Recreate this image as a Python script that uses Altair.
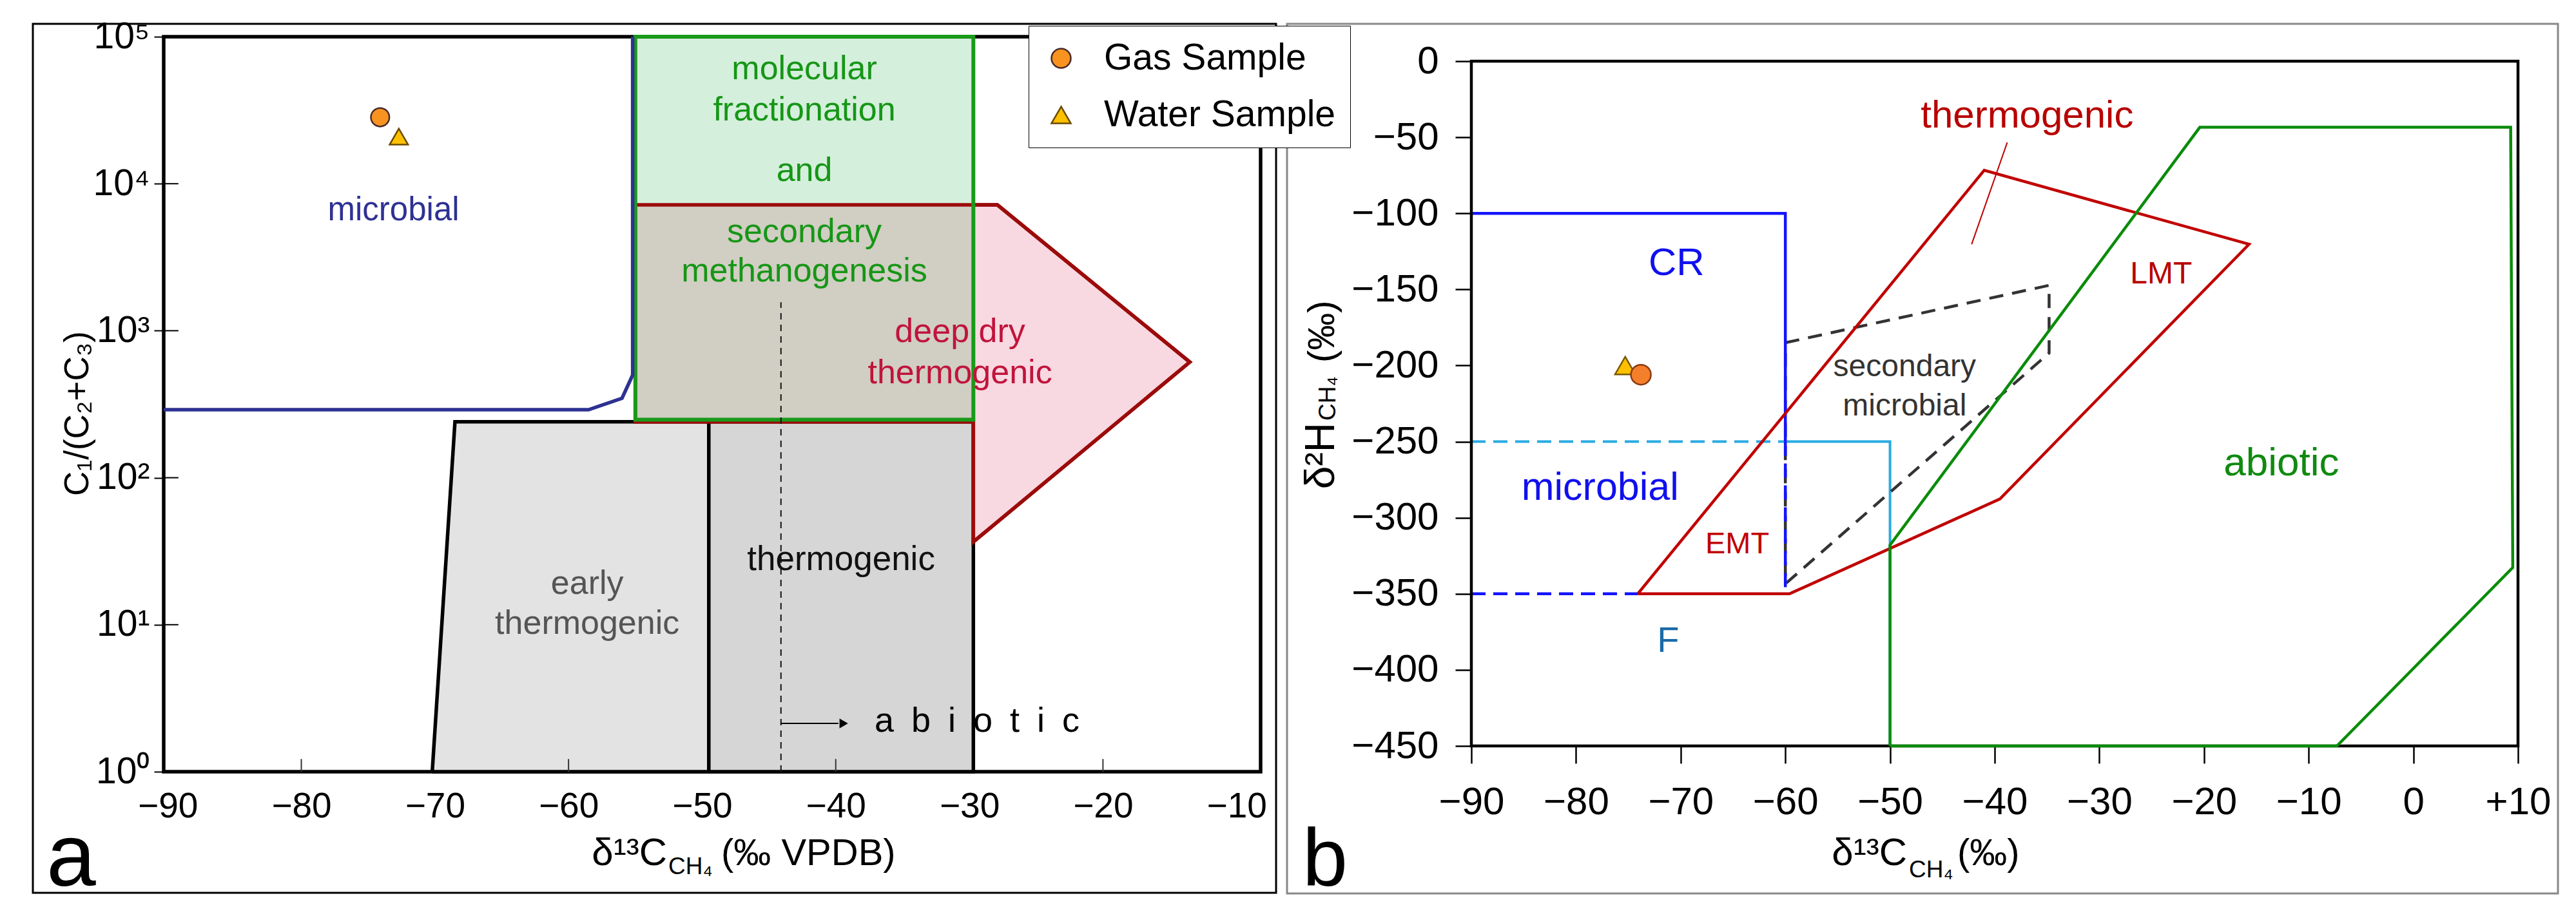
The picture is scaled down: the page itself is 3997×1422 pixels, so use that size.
import altair as alt
import pandas as pd

FONT = "Liberation Sans, Arial, Helvetica, sans-serif"

# ---------------- panel a : C1/(C2+C3) vs d13C ----------------
A_XDOM = [-90.3, -8.2]
A_YDOM = [1, 100000]
A_X_TICKS = [-90, -80, -70, -60, -50, -40, -30, -20, -10]
A_X_INNER_TICKS = [-80, -60, -40, -20]
A_Y_TICKS = [1, 10, 100, 1000, 10000, 100000]
A_Y_INNER_TICKS = [10, 100, 1000, 10000]

A_MICRO_X = [-90.3, -58.5, -56.0, -55.2, -55.2]
A_MICRO_Y = [290, 290, 347, 500, 100000]
A_EARLY_X = [-70.2, -68.5, -49.5, -49.5, -70.2]
A_EARLY_Y = [1, 240, 240, 1, 1]
A_THERMO_X = [-49.5, -49.5, -29.7, -29.7, -49.5]
A_THERMO_Y = [1, 240, 240, 1, 1]
A_DEEP_X = [-55.0, -27.9, -13.5, -29.7, -29.7, -55.0, -55.0]
A_DEEP_Y = [7180, 7180, 612, 36.6, 240, 240, 7180]
A_BOX_X = [-55.0, -29.7]
A_BOX_Y = [248, 7180, 100000]
A_DASH_X = [-44.1, -44.1]
A_DASH_Y = [1, 1563]
A_ARROW_X = [-44.1, -39.8]
A_ARROW_Y = [2.13, 2.13]
A_ARROW_HEAD_X = [-39.4]
A_SAMPLES = ["Gas Sample", "Water Sample"]
A_SAMPLE_X = [-74.1, -72.7]
A_SAMPLE_Y = [28300, 20900]

A_LABELS = [
    ("microbial", -73.1, 5640, "#2e3192", 51),
    ("molecular", -42.35, 51400, "#169616", 52),
    ("fractionation", -42.35, 26900, "#169616", 52),
    ("and", -42.35, 10420, "#169616", 52),
    ("secondary", -42.35, 4000, "#169616", 52),
    ("methanogenesis", -42.35, 2160, "#169616", 52),
    ("deep dry", -30.7, 837, "#c0143c", 52),
    ("thermogenic", -30.7, 439, "#c0143c", 52),
    ("early", -58.6, 16.2, "#555555", 52),
    ("thermogenic", -58.6, 8.67, "#555555", 52),
    ("thermogenic", -39.6, 23.6, "#111111", 53),
]
A_ABIOTIC = ("a\u2002b\u2002i\u2002o\u2002t\u2002i\u2002c", -37.1, 1.87)

# ---------------- panel b : d2H vs d13C ----------------
B_XDOM = [-90, 10]
B_YDOM = [-450, 16.1]
B_BOX_Y = [-450, 0]
B_X_TICKS = [-90, -80, -70, -60, -50, -40, -30, -20, -10, 0, 10]
B_Y_TICKS = [0, -50, -100, -150, -200, -250, -300, -350, -400, -450]

B_CR_SOLID = ([-90, -60, -60], [-100, -100, -250])
B_CR_DASH = [([-60, -60], [-250, -350]), ([-90, -74.1], [-350, -350])]
B_F_DASH = ([-90, -60], [-250, -250])
B_F_SOLID = ([-60, -50, -50], [-250, -250, -450])
B_ABIOTIC = ([-50, -50, -20.4, 9.3, 9.5, -7.3, -50], [-450, -318, -43.4, -43.4, -332.8, -450, -450])
B_THERMO = ([-74.1, -59.6, -39.5, -15.7, -41.0, -74.1], [-350, -350, -287.7, -120.3, -71.7, -350])
B_SECMIC = ([-60, -34.8, -34.8, -60, -60], [-185, -147.3, -191.8, -343.5, -185])
B_POINTER = ([-38.8, -42.2], [-53.4, -120.3])
B_GAS = (-73.8, -206)
B_WATER = (-75.3, -200)

B_LABELS = [
    ("CR", -70.4, -140.6, "#1010ee", 60),
    ("microbial", -77.7, -288.3, "#1010ee", 61),
    ("EMT", -64.6, -323.3, "#c00000", 47),
    ("F", -71.2, -388, "#1a6aa8", 56),
    ("secondary", -48.6, -207, "#333333", 48),
    ("microbial", -48.6, -232.8, "#333333", 48),
    ("LMT", -24.1, -146, "#b80000", 48),
    ("thermogenic", -36.9, -43.4, "#b80000", 60),
    ("abiotic", -12.6, -272, "#108a10", 62),
]

DUMMY = pd.DataFrame({"k": [0]})


class Panel:
    def __init__(self, xdom, ydom, ylog, xaxis, yaxis):
        self.xs = alt.Scale(domain=xdom, nice=False, zero=False)
        if ylog:
            self.ys = alt.Scale(type="log", domain=ydom, nice=False)
        else:
            self.ys = alt.Scale(domain=ydom, nice=False, zero=False)
        self.xaxis = xaxis
        self.yaxis = yaxis

    def X(self, f="x"):
        return alt.X(f + ":Q", scale=self.xs, axis=self.xaxis)

    def Y(self, f="y"):
        return alt.Y(f + ":Q", scale=self.ys, axis=self.yaxis)


def path(P, segs, **kw):
    rows = []
    for s, (xs, ys) in enumerate(segs):
        for i, (x, y) in enumerate(zip(xs, ys)):
            rows.append({"x": x, "y": y, "o": i, "s": s})
    df = pd.DataFrame(rows)
    return alt.Chart(df).mark_line(**kw).encode(
        x=P.X(), y=P.Y(), order="o:Q", detail="s:N")


def label(P, txt, x, y, color, size, align="center"):
    df = pd.DataFrame({"x": [x], "y": [y], "t": [txt]})
    return alt.Chart(df).mark_text(color=color, fontSize=size, font=FONT,
                                   align=align, baseline="alphabetic").encode(
        x=P.X(), y=P.Y(), text="t:N")


def pxtext(x, y, txt, size, align="left", angle=0, color="black"):
    return alt.Chart(DUMMY).mark_text(text=txt, fontSize=size, font=FONT, align=align,
                                      baseline="alphabetic", angle=angle, color=color).encode(
        x=alt.value(x), y=alt.value(y))


def frame(x, x2, y, y2, color, width):
    return alt.Chart(DUMMY).mark_rect(fillOpacity=0, stroke=color, strokeWidth=width).encode(
        x=alt.value(x), x2=alt.value(x2), y=alt.value(y), y2=alt.value(y2))


# ================= panel a =================
A_W, A_H = 1702, 1141
LW_A = 5.5
ax_ax = alt.Axis(values=A_X_TICKS, ticks=False, domain=False, grid=False, labelFontSize=55,
                 labelFont=FONT, labelColor="black", labelPadding=27, title=None, labelFlush=False)
ax_ay = alt.Axis(values=A_Y_TICKS, domain=False, grid=False, tickSize=15, tickWidth=2, tickColor="black",
                 labelFontSize=57, labelFont=FONT, labelColor="black", labelPadding=7, title=None,
                 labelFlush=False, labelOverlap=False,
                 labelExpr="'10' + ['\u2070','\u00b9','\u00b2','\u00b3','\u2074','\u2075'][round(log(datum.value)/LN10)]")
PA = Panel(A_XDOM, A_YDOM, True, ax_ax, ax_ay)

a_layers = [frame(-203, 1726, -20, 1329, "black", 3)]
a_layers.append(path(PA, [(A_EARLY_X, A_EARLY_Y)], fill="#e3e3e3", color="black", strokeWidth=LW_A))
a_layers.append(path(PA, [(A_THERMO_X, A_THERMO_Y)], fill="#d6d6d6", color="black", strokeWidth=LW_A))
a_layers.append(path(PA, [(A_DEEP_X, A_DEEP_Y)], fill="#f8d8e1", color="#9c0b0b", strokeWidth=LW_A))

tan_df = pd.DataFrame({"x": [A_BOX_X[0]], "x2": [A_BOX_X[1]], "y": [A_BOX_Y[0]], "y2": [A_BOX_Y[1]]})
grn_df = pd.DataFrame({"x": [A_BOX_X[0]], "x2": [A_BOX_X[1]], "y": [A_BOX_Y[1]], "y2": [A_BOX_Y[2]]})
box_df = pd.DataFrame({"x": [A_BOX_X[0]], "x2": [A_BOX_X[1]], "y": [A_BOX_Y[0]], "y2": [A_BOX_Y[2]]})
a_layers.append(alt.Chart(tan_df).mark_rect(color="#d1cec3").encode(
    x=PA.X(), x2="x2:Q", y=PA.Y(), y2="y2:Q"))
a_layers.append(alt.Chart(grn_df).mark_rect(color="#d4efdc").encode(
    x=PA.X(), x2="x2:Q", y=PA.Y(), y2="y2:Q"))
a_layers.append(path(PA, [(A_DEEP_X, A_DEEP_Y)], color="#9c0b0b", strokeWidth=LW_A))
a_layers.append(alt.Chart(box_df).mark_rect(fillOpacity=0, stroke="#1a9a1a", strokeWidth=6).encode(
    x=PA.X(), x2="x2:Q", y=PA.Y(), y2="y2:Q"))
a_layers.append(path(PA, [(A_MICRO_X, A_MICRO_Y)], color="#2e3192", strokeWidth=LW_A))
a_layers.append(path(PA, [(A_DASH_X, A_DASH_Y)], color="#111111", strokeWidth=2, strokeDash=[10, 8]))
a_layers.append(path(PA, [(A_ARROW_X, A_ARROW_Y)], color="black", strokeWidth=2))
a_layers.append(alt.Chart(pd.DataFrame({"x": A_ARROW_HEAD_X, "y": [A_ARROW_Y[0]]})).mark_point(
    shape="triangle-right", filled=True, color="black", size=230, opacity=1).encode(x=PA.X(), y=PA.Y()))

xt_df = pd.DataFrame({"x": A_X_INNER_TICKS, "y": [1] * len(A_X_INNER_TICKS), "y2": [1.22] * len(A_X_INNER_TICKS)})
a_layers.append(alt.Chart(xt_df).mark_rule(color="#333333", strokeWidth=2).encode(
    x=PA.X(), y=PA.Y(), y2="y2:Q"))
yt_df = pd.DataFrame({"x": [A_XDOM[0]] * len(A_Y_INNER_TICKS), "x2": [A_XDOM[0] + 1.1] * len(A_Y_INNER_TICKS),
                      "y": A_Y_INNER_TICKS})
a_layers.append(alt.Chart(yt_df).mark_rule(color="black", strokeWidth=2).encode(
    x=PA.X(), x2="x2:Q", y=PA.Y()))

for t, x, y, c, s in A_LABELS:
    a_layers.append(label(PA, t, x, y, c, s))
a_layers.append(label(PA, A_ABIOTIC[0], A_ABIOTIC[1], A_ABIOTIC[2], "black", 54, align="left"))

samp_df = pd.DataFrame({"sample": A_SAMPLES, "x": A_SAMPLE_X, "y": A_SAMPLE_Y})
LEG = alt.Legend(title=None, orient="none", legendX=1342, legendY=-17, labelFontSize=57, labelFont=FONT,
                 labelColor="black", labelLimit=1000, symbolSize=900, symbolStrokeWidth=2.5, padding=22,
                 rowPadding=30, labelOffset=38, strokeColor="black", fillColor="white", symbolOpacity=1)
a_layers.append(alt.Chart(samp_df).mark_point(filled=True, opacity=1, strokeWidth=2.5, size=820).encode(
    x=PA.X(), y=PA.Y(),
    shape=alt.Shape("sample:N", scale=alt.Scale(domain=A_SAMPLES, range=["circle", "triangle-up"]), legend=LEG),
    fill=alt.Fill("sample:N", scale=alt.Scale(domain=A_SAMPLES, range=["#f7931e", "#ffc000"]), legend=LEG),
    stroke=alt.Stroke("sample:N", scale=alt.Scale(domain=A_SAMPLES, range=["#4a2a2a", "#6a4a00"]), legend=LEG),
))

# axis titles (with sub/superscripts) and panel letter
a_layers.append(pxtext(781, 1286, "\u03b4\u00b9\u00b3C", 60, align="right"))
a_layers.append(pxtext(783, 1300, "CH\u2084", 37, align="left"))
a_layers.append(pxtext(865, 1286, "(\u2030 VPDB)", 58, align="left"))
a_layers.append(pxtext(-117, 585, "C\u2081/(C\u2082+C\u2083)", 53, align="center", angle=270))
a_layers.append(pxtext(-182, 1318, "a", 138, align="left"))

panel_a = alt.layer(*a_layers).properties(
    width=A_W, height=A_H, view=alt.ViewBackground(stroke="black", strokeWidth=5.5, fill="white"))

# ================= panel b =================
B_W, B_H = 1624, 1101
LW_B = 4.5
ax_bx = alt.Axis(values=B_X_TICKS, domain=False, grid=False, tickSize=27, tickWidth=2.5, tickColor="black",
                 labelFontSize=60, labelFont=FONT, labelColor="black", labelPadding=31, title=None,
                 labelFlush=False, labelOverlap=False,
                 labelExpr="datum.value > 0 ? '+' + datum.label : datum.label")
ax_by = alt.Axis(values=B_Y_TICKS, domain=False, grid=False, tickSize=25, tickWidth=2.5, tickColor="black",
                 labelFontSize=60, labelFont=FONT, labelColor="black", labelPadding=26, title=None,
                 labelFlush=False, labelOverlap=False)
PB = Panel(B_XDOM, B_YDOM, False, ax_bx, ax_by)

b_layers = [frame(-286, 1686, -20, 1330, "#888888", 3)]
b_layers.append(path(PB, [B_F_DASH], color="#29aae1", strokeWidth=4, strokeDash=[22, 12]))
b_layers.append(path(PB, [B_F_SOLID], color="#29aae1", strokeWidth=4))
b_layers.append(path(PB, [B_SECMIC], color="#333333", strokeWidth=LW_B, strokeDash=[22, 14]))
b_layers.append(path(PB, [B_CR_SOLID], color="#1414ff", strokeWidth=LW_B))
b_layers.append(path(PB, B_CR_DASH, color="#1414ff", strokeWidth=LW_B, strokeDash=[22, 12]))
b_layers.append(path(PB, [B_THERMO], color="#c00000", strokeWidth=LW_B))
b_layers.append(path(PB, [B_POINTER], color="#c00000", strokeWidth=2))

for t, x, y, c, s in B_LABELS:
    b_layers.append(label(PB, t, x, y, c, s))

b_layers.append(alt.Chart(pd.DataFrame({"x": [B_WATER[0]], "y": [B_WATER[1]]})).mark_point(
    shape="triangle-up", filled=True, fill="#ffc000", stroke="#7a5a00", strokeWidth=2.5, size=1000,
    opacity=1).encode(x=PB.X(), y=PB.Y()))
b_layers.append(alt.Chart(pd.DataFrame({"x": [B_GAS[0]], "y": [B_GAS[1]]})).mark_point(
    shape="circle", filled=True, fill="#f47f2b", stroke="#8a3a10", strokeWidth=2.5, size=960,
    opacity=1).encode(x=PB.X(), y=PB.Y()))

# plot border of panel b (the box spans the data range 0..-450)
bbox_df = pd.DataFrame({"x": [B_XDOM[0]], "x2": [B_XDOM[1]], "y": [B_BOX_Y[0]], "y2": [B_BOX_Y[1]]})
b_layers.append(alt.Chart(bbox_df).mark_rect(fillOpacity=0, stroke="black", strokeWidth=4.5).encode(
    x=PB.X(), x2="x2:Q", y=PB.Y(), y2="y2:Q"))
b_layers.append(path(PB, [B_ABIOTIC], color="#0a8c0a", strokeWidth=LW_B))

b_layers.append(pxtext(676, 1286, "\u03b4\u00b9\u00b3C", 60, align="right"))
b_layers.append(pxtext(679, 1305, "CH\u2084", 37, align="left"))
b_layers.append(pxtext(754, 1286, "(\u2030)", 58, align="left"))
b_layers.append(pxtext(-213, 599, "\u03b4\u00b2H", 64, align="right", angle=270))
b_layers.append(pxtext(-211, 596, "CH\u2084", 37, align="left", angle=270))
b_layers.append(pxtext(-213, 506, "(\u2030)", 58, align="left", angle=270))
b_layers.append(pxtext(-262, 1318, "b", 126, align="left"))

panel_b = alt.layer(*b_layers).properties(
    width=B_W, height=B_H, view=alt.ViewBackground(strokeOpacity=0, fill="white"))

chart = alt.hconcat(panel_a, panel_b, spacing=10).properties(
    padding={"left": 38, "top": 17, "right": 0, "bottom": 0},
    background="white",
).configure(font=FONT)

chart.save("out.html", embed_options={"renderer": "svg", "actions": False})
